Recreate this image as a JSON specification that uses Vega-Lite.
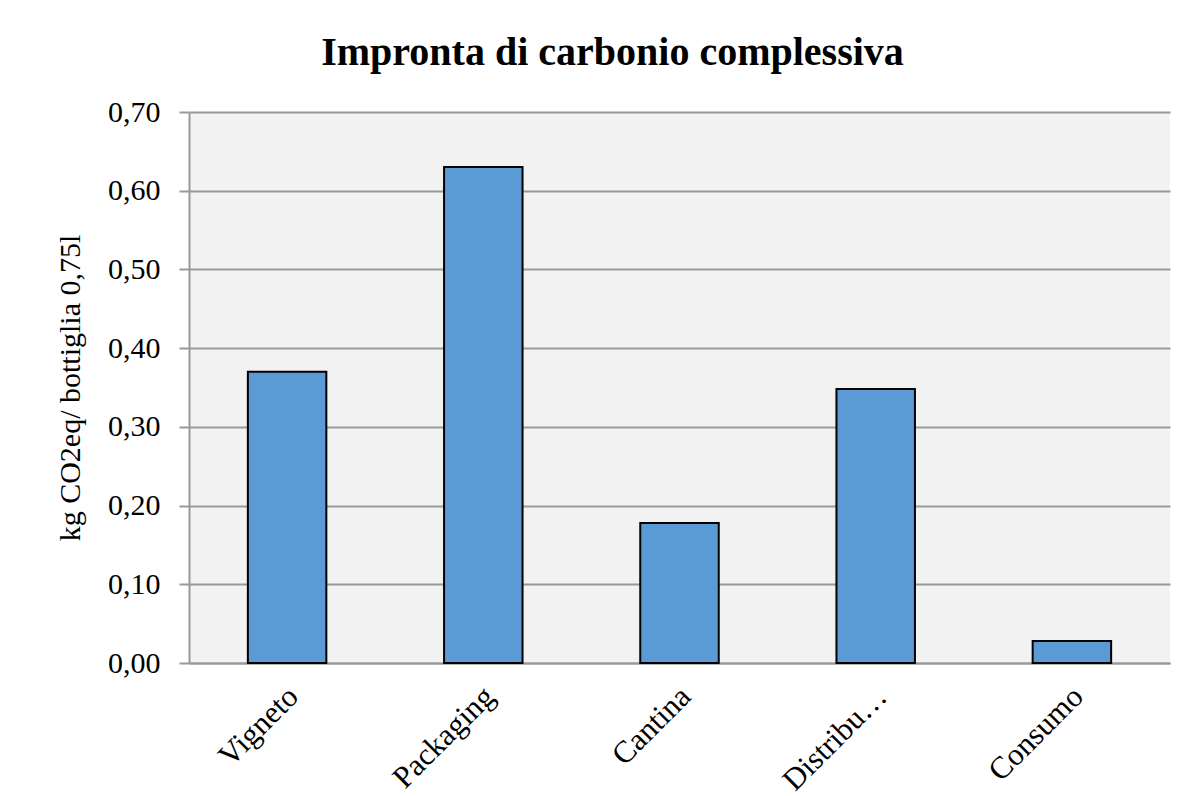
{
  "$schema": "https://vega.github.io/schema/vega-lite/v6.json",
  "width": 981,
  "height": 551,
  "autosize": {"type": "none"},
  "padding": {"left": 189, "top": 112, "right": 32, "bottom": 133},
  "background": "white",
  "title": {
    "text": "Impronta di carbonio complessiva",
    "font": "Liberation Serif",
    "fontSize": 40,
    "fontWeight": "bold",
    "color": "black",
    "anchor": "middle",
    "dx": -67,
    "offset": 24
  },
  "data": {
    "values": [
      {"fase": "Vigneto", "valore": 0.37},
      {"fase": "Packaging", "valore": 0.63},
      {"fase": "Cantina", "valore": 0.178},
      {"fase": "Distribuzione", "valore": 0.348},
      {"fase": "Consumo", "valore": 0.028}
    ]
  },
  "mark": {"type": "bar", "color": "#5b9bd5", "stroke": "black", "strokeWidth": 2},
  "encoding": {
    "x": {
      "field": "fase",
      "type": "nominal",
      "sort": null,
      "scale": {"paddingInner": 0.6, "paddingOuter": 0.3},
      "axis": {
        "title": null,
        "labelAngle": -45,
        "labelFont": "Liberation Serif",
        "labelFontSize": 31,
        "labelColor": "black",
        "labelPadding": 18,
        "labelOffset": -4,
        "ticks": false,
        "domainColor": "#999999",
        "domainWidth": 2,
        "labelExpr": "datum.value == 'Distribuzione' ? 'Distribu…' : datum.value"
      }
    },
    "y": {
      "field": "valore",
      "type": "quantitative",
      "scale": {"domain": [0, 0.7], "nice": false},
      "axis": {
        "title": "kg CO2eq/ bottiglia 0,75l",
        "titleFont": "Liberation Serif",
        "titleFontSize": 30,
        "titleFontWeight": "normal",
        "titleColor": "black",
        "titlePadding": 22,
        "values": [0, 0.1, 0.2, 0.3, 0.4, 0.5, 0.6, 0.7],
        "labelExpr": "replace(format(datum.value, '.2f'), '.', ',')",
        "labelFont": "Liberation Serif",
        "labelFontSize": 30,
        "labelColor": "black",
        "labelPadding": 19,
        "tickSize": 10,
        "tickColor": "#999999",
        "tickWidth": 2,
        "domainColor": "#999999",
        "domainWidth": 2,
        "gridColor": "#999999",
        "gridWidth": 2
      }
    }
  },
  "config": {
    "view": {"fill": "#f2f2f2", "stroke": null}
  }
}
